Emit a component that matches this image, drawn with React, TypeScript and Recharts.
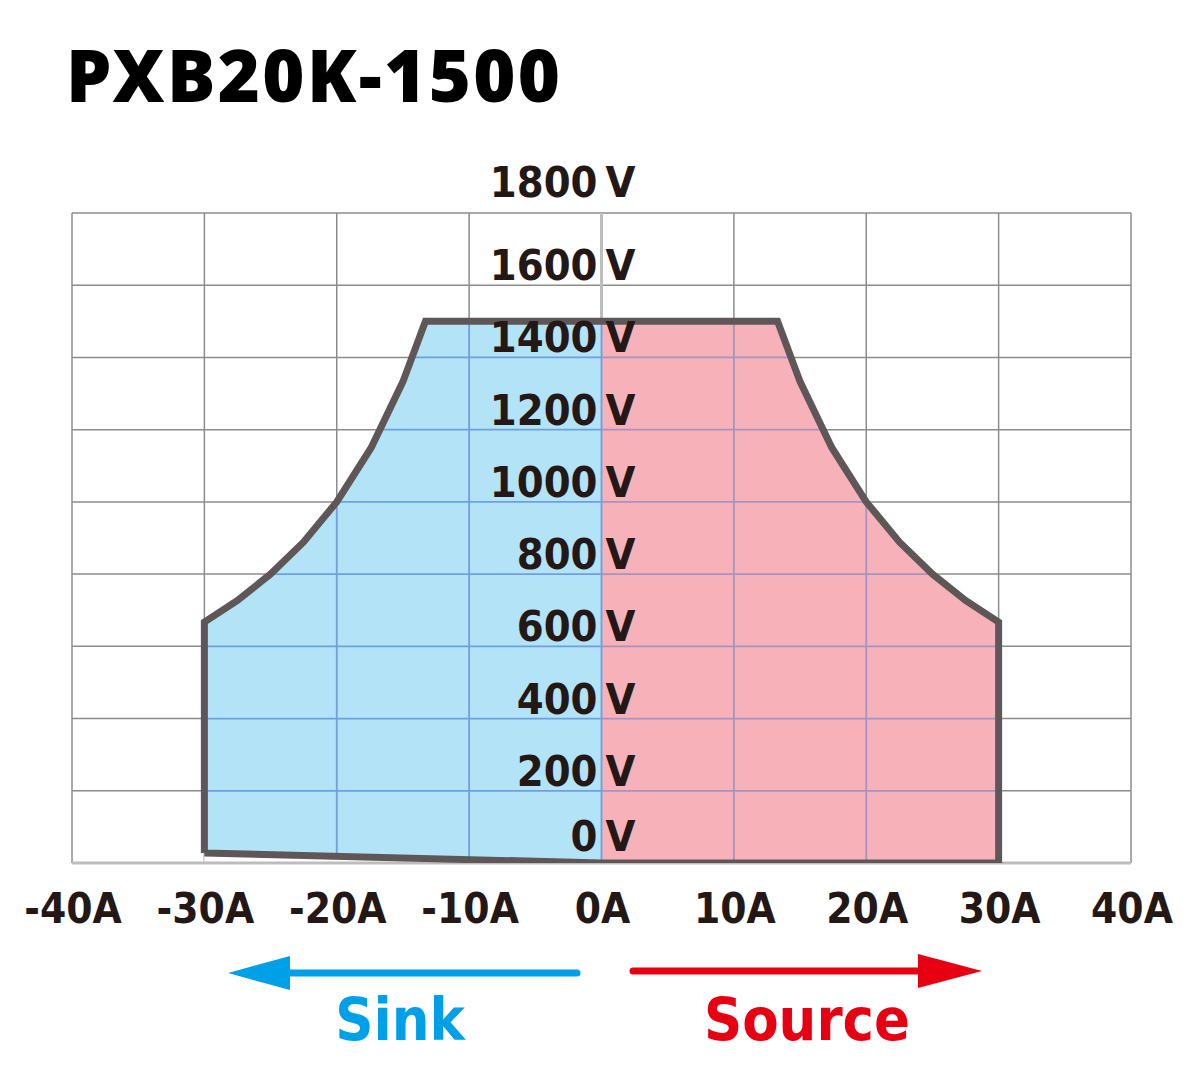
import React from 'react';
import { ComposedChart, Area, Line, XAxis, YAxis, CartesianGrid, ReferenceLine } from 'recharts';

const titleText = 'PXB20K-1500';
const currentTicks = [-40, -30, -20, -10, 0, 10, 20, 30, 40];
const voltageTicks = [0, 200, 400, 600, 800, 1000, 1200, 1400, 1600, 1800];
const sinkCurrent = [-30, -27.5, -25, -22.5, -20, -17.4, -15, -13.3, 0];
const sinkVoltage = [667, 727, 800, 889, 1000, 1150, 1333, 1500, 1500];
const sourceCurrent = [0, 13.3, 15, 17.4, 20, 22.5, 25, 27.5, 30];
const sourceVoltage = [1500, 1500, 1333, 1150, 1000, 889, 800, 727, 667];
const sinkFloorCurrent = [-30, 0];
const sinkFloorVoltage = [28, 0];
const sourceFloorCurrent = [30, 0];
const sourceFloorVoltage = [0, 0];
const sinkLabel = 'Sink';
const sourceLabel = 'Source';

const toPts = (xs: number[], ys: number[]) => xs.map((x, i) => ({ x, v: ys[i] }));
const sinkData = toPts(sinkCurrent, sinkVoltage);
const sourceData = toPts(sourceCurrent, sourceVoltage);
const sinkFloorData = toPts(sinkFloorCurrent, sinkFloorVoltage);
const outlineData = [
  ...toPts(sinkFloorCurrent.slice(0, 1), sinkFloorVoltage.slice(0, 1)),
  ...sinkData,
  ...sourceData.slice(1),
  ...toPts(sourceFloorCurrent, sourceFloorVoltage),
  ...toPts(sinkFloorCurrent.slice(0, 1), sinkFloorVoltage.slice(0, 1)),
];

function interp(xs: number[], ys: number[], x: number) {
  for (let i = 0; i < xs.length - 1; i++) {
    const a = xs[i], b = xs[i + 1];
    if ((x >= a && x <= b) || (x <= a && x >= b)) {
      if (a === b) return Math.max(ys[i], ys[i + 1]);
      return ys[i] + ((x - a) / (b - a)) * (ys[i + 1] - ys[i]);
    }
  }
  return 0;
}
function crossing(xs: number[], ys: number[], y: number) {
  for (let i = 0; i < xs.length - 1; i++) {
    const a = ys[i], b = ys[i + 1];
    if (a !== b && ((y >= a && y <= b) || (y <= a && y >= b))) {
      return xs[i] + ((y - a) / (b - a)) * (xs[i + 1] - xs[i]);
    }
  }
  let k = 0;
  ys.forEach((v, i) => { if (v < ys[k]) k = i; });
  return xs[k];
}

const BLUE_GRID = '#6f9fe0';
const PURPLE_GRID = '#a593c3';
const TOP_V = Math.max(...sinkVoltage);

type Seg = { x1: number; y1: number; x2: number; y2: number; c: string };
const overlaySegs: Seg[] = [];
currentTicks.forEach((x) => {
  if (x <= -30 || x >= 30) return;
  if (x <= 0) {
    overlaySegs.push({ x1: x, y1: interp(sinkFloorCurrent, sinkFloorVoltage, x), x2: x, y2: interp(sinkCurrent, sinkVoltage, x), c: BLUE_GRID });
  } else {
    overlaySegs.push({ x1: x, y1: 0, x2: x, y2: interp(sourceCurrent, sourceVoltage, x), c: PURPLE_GRID });
  }
});
voltageTicks.forEach((v) => {
  if (v <= 0 || v >= TOP_V) return;
  overlaySegs.push({ x1: crossing(sinkCurrent, sinkVoltage, v), y1: v, x2: 0, y2: v, c: BLUE_GRID });
  overlaySegs.push({ x1: 0, y1: v, x2: crossing(sourceCurrent, sourceVoltage, v), y2: v, c: PURPLE_GRID });
});

const FONT = "'DejaVu Sans Condensed', 'DejaVu Sans', sans-serif";
const TEXT = '#231815';
const CW = 1184;
const CH = 1060;
const M = { top: 205, left: 63, right: 61, bottom: 204 };
const CX = M.left + 1 + (CW - M.left - 1 - M.right) / 2;
const PLOT_BOTTOM = CH - M.bottom - 1;

const renderYTick = (props: any) => {
  const { y, payload } = props;
  const v = payload.value;
  const dy = v === 0 ? -12 : v === 1800 ? -16 : -5;
  return (
    <g key={`yt${v}`}>
      <text x={CX - 4} y={y + dy} textAnchor="end" fontFamily={FONT} fontStretch="condensed" fontWeight="bold" fontSize={43} fill={TEXT}>
        {v}
      </text>
      <text x={CX + 4} y={y + dy} textAnchor="start" fontFamily={FONT} fontStretch="condensed" fontWeight="bold" fontSize={43} fill={TEXT}>
        V
      </text>
    </g>
  );
};

const renderXTick = (props: any) => {
  const { x, payload } = props;
  return (
    <text key={`xt${payload.value}`} x={x + 1} y={PLOT_BOTTOM + 60} textAnchor="middle" fontFamily={FONT} fontStretch="condensed" fontWeight="bold" fontSize={42} fill={TEXT}>
      {`${payload.value}A`}
    </text>
  );
};

export default function App() {
  return (
    <div style={{ position: 'relative', width: CW, height: CH }}>
      <ComposedChart width={CW} height={CH} margin={M}>
        <CartesianGrid stroke="#8c8c8c" strokeWidth={1.5} />
        <XAxis type="number" dataKey="x" domain={[-40, 40]} ticks={currentTicks} height={1} axisLine={false} tickLine={false} tick={renderXTick} interval={0} allowDataOverflow />
        <YAxis type="number" dataKey="v" domain={[0, 1800]} ticks={voltageTicks} width={1} axisLine={false} tickLine={false} tick={renderYTick} interval={0} allowDataOverflow />
        <Area data={sinkData} dataKey="v" type="linear" fill="#b3e3f7" fillOpacity={1} stroke="none" isAnimationActive={false} baseValue={0} zIndex={100} />
        <Area data={sourceData} dataKey="v" type="linear" fill="#f7b2b9" fillOpacity={1} stroke="none" isAnimationActive={false} baseValue={0} zIndex={100} />
        <Area data={sinkFloorData} dataKey="v" type="linear" fill="#ffffff" fillOpacity={1} stroke="none" isAnimationActive={false} baseValue={0} zIndex={150} />
        {overlaySegs.map((s, i) => (
          <ReferenceLine key={`o${i}`} segment={[{ x: s.x1, y: s.y1 }, { x: s.x2, y: s.y2 }]} stroke={s.c} strokeWidth={1.8} ifOverflow="visible" zIndex={200} />
        ))}
        <ReferenceLine segment={[{ x: 0, y: TOP_V }, { x: 0, y: 1800 }]} stroke="#bdbdbd" strokeWidth={3} zIndex={250} />
        <ReferenceLine y={0} stroke="#bdbdbd" strokeWidth={3} zIndex={250} />
        <Line data={outlineData} dataKey="v" type="linear" stroke="#5f5757" strokeWidth={7} dot={false} activeDot={false} isAnimationActive={false} strokeLinejoin="miter" zIndex={400} />
      </ComposedChart>
      <svg width={1200} height={1075} style={{ position: 'absolute', left: -8, top: -8, pointerEvents: 'none' }}>
        <text x={66} y={102} fontFamily="'Noto Sans', sans-serif" fontWeight={900} fontSize={72} textLength={494} lengthAdjust="spacing" fill="#000">
          {titleText}
        </text>
        <line x1={577} y1={973} x2={285} y2={973} stroke="#00a0e9" strokeWidth={7} strokeLinecap="round" />
        <polygon points="228,973 290,956 290,990" fill="#00a0e9" />
        <line x1={633} y1={971} x2={922} y2={971} stroke="#e60012" strokeWidth={7} strokeLinecap="round" />
        <polygon points="982,971 918,954 918,988" fill="#e60012" />
        <text x={400} y={1040} textAnchor="middle" fontFamily={FONT} fontStretch="condensed" fontWeight="bold" fontSize={59} fill="#00a0e9">
          {sinkLabel}
        </text>
        <text x={807} y={1040} textAnchor="middle" fontFamily={FONT} fontStretch="condensed" fontWeight="bold" fontSize={59} fill="#e60012">
          {sourceLabel}
        </text>
      </svg>
    </div>
  );
}
